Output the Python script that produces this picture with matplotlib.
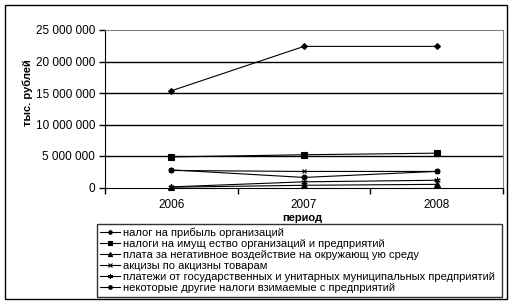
import matplotlib
matplotlib.use("Agg")
import matplotlib.pyplot as plt
import matplotlib.patches as mpatches
from matplotlib.ticker import FuncFormatter, FixedLocator

plt.rcParams["font.family"] = ["Liberation Sans", "DejaVu Sans"]

# ── Data (тыс. рублей) ───────────────────────────────────────
years = ["2006", "2007", "2008"]
profit_tax   = [15350000, 22400000, 22400000]
property_tax = [4850000, 5200000, 5450000]
env_fee      = [50000, 350000, 500000]
excise       = [2700000, 2550000, 2550000]
state_ent    = [100000, 900000, 1150000]
other_taxes  = [2800000, 1600000, 2550000]

labels = [
    "налог на прибыль организаций",
    "налоги на имущ ество организаций и предприятий",
    "плата за негативное воздействие на окружающ ую среду",
    "акцизы по акцизны товарам",
    "платежи от государственных и унитарных муниципальных предприятий",
    "некоторые другие налоги взимаемые с предприятий",
]
series = [profit_tax, property_tax, env_fee, excise, state_ent, other_taxes]
markers = ["D", "s", "^", "x", (6, 2, 0), "o"]
msizes = [3, 4, 4, 3.5, 4.5, 3.5]

W, H = 513, 305
fig = plt.figure(figsize=(W / 100, H / 100), dpi=100)
fig.patch.set_facecolor("white")

# ── outer chart border ──────────────────────────────────────
fig.patches.append(mpatches.Rectangle((5 / W, 1 - 299 / H), 502 / W, 294 / H,
                                      transform=fig.transFigure, fill=False,
                                      edgecolor="black", linewidth=1))

ax = fig.add_axes([105 / W, 1 - 187.5 / H, 398 / W, 157.5 / H])
x = list(range(len(years)))
handles = []
for vals, m, ms, lab in zip(series, markers, msizes, labels):
    ln, = ax.plot(x, vals, color="black", linewidth=0.8, marker=m,
                  markersize=ms, markeredgewidth=0.8, markerfacecolor="black",
                  label=lab, clip_on=False, zorder=3)
    handles.append(ln)

ax.set_xlim(-0.5, 2.5)
ax.set_ylim(0, 25000000)
ax.set_yticks(range(0, 25000001, 5000000))
ax.yaxis.set_major_formatter(FuncFormatter(lambda v, p: f"{int(v):,}".replace(",", " ")))
ax.set_xticks(x)
ax.set_xticklabels(years)
ax.xaxis.set_minor_locator(FixedLocator([-0.5, 0.5, 1.5, 2.5]))
ax.tick_params(axis="x", which="major", length=0, pad=8, labelsize=8.5)
ax.tick_params(axis="x", which="minor", length=4, width=1, direction="out")
ax.tick_params(axis="y", length=4, width=1, direction="out", pad=3, labelsize=8.5)

ax.grid(axis="y", color="black", linewidth=1)
ax.get_ygridlines()[-1].set_visible(False)
ax.get_ygridlines()[0].set_visible(False)
for s in ["top", "right"]:
    ax.spines[s].set_color("#808080")
for s in ["left", "bottom"]:
    ax.spines[s].set_color("black")
ax.set_axisbelow(True)

fig.text(28 / W, 1 - 93 / H, "тыс. рублей", rotation=90, ha="center",
         va="center", fontsize=8, fontweight="bold")
fig.text(302 / W, 1 - 218 / H, "период", ha="center", va="center",
         fontsize=8, fontweight="bold")

leg = fig.legend(handles=handles, loc="upper left",
                 bbox_to_anchor=(96.7 / W, 1 - 296.7 / H, 405 / W, 72.7 / H),
                 mode="expand", borderaxespad=0, fontsize=8, frameon=True,
                 fancybox=False, edgecolor="black", handlelength=1.8,
                 handletextpad=0.3, labelspacing=0.1, borderpad=0.3,
                 markerscale=0.75)
leg.get_frame().set_linewidth(1)

fig.savefig("out.png", dpi=100)
